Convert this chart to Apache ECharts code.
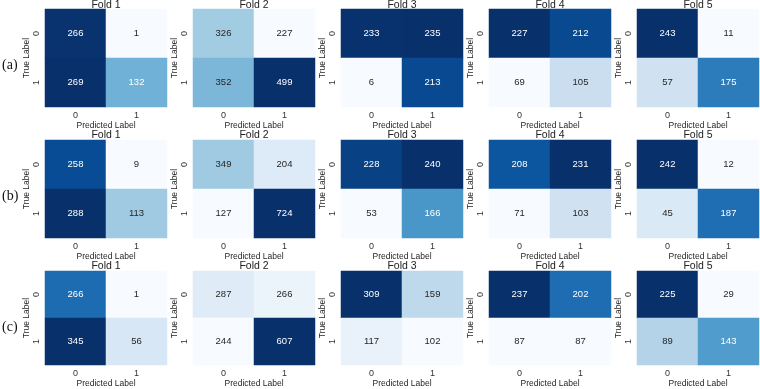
<!DOCTYPE html>
<html>
<head>
<meta charset="utf-8">
<script src="https://cdn.jsdelivr.net/npm/echarts@6/dist/echarts.min.js"></script>
<style>
  html, body { margin: 0; padding: 0; background: #fff; }
  #main { width: 760px; height: 389px; }
</style>
</head>
<body>
<div id="main"></div>
<script>
// confusion matrices: [[TN, FP], [FN, TP]] for each fold
var rowA = [[[266, 1], [269, 132]], [[326, 227], [352, 499]], [[233, 235], [6, 213]], [[227, 212], [69, 105]], [[243, 11], [57, 175]]];
var rowB = [[[258, 9], [288, 113]], [[349, 204], [127, 724]], [[228, 240], [53, 166]], [[208, 231], [71, 103]], [[242, 12], [45, 187]]];
var rowC = [[[266, 1], [345, 56]], [[287, 266], [244, 607]], [[309, 159], [117, 102]], [[237, 202], [87, 87]], [[225, 29], [89, 143]]];
var rowNames = ['(a)', '(b)', '(c)'];
var foldNames = ['Fold 1', 'Fold 2', 'Fold 3', 'Fold 4', 'Fold 5'];
var classLabels = ['0', '1'];

var rows = [rowA, rowB, rowC];
var blues = ['#f7fbff', '#deebf7', '#c6dbef', '#9ecae1', '#6baed6', '#4292c6', '#2171b5', '#08519c', '#08306b'];
var font = 'Liberation Sans, Arial, sans-serif';

var rowTops = [9, 140, 271];
var cellH = 98, cellW = 122, left0 = 45, stepX = 148;

function hexRgb(h) {
    return [parseInt(h.substr(1, 2), 16), parseInt(h.substr(3, 2), 16), parseInt(h.substr(5, 2), 16)];
}
// same rule seaborn uses to pick the annotation colour
function textColor(t) {
    var p = t * (blues.length - 1);
    var i = Math.min(Math.floor(p), blues.length - 2);
    var f = p - i;
    var a = hexRgb(blues[i]), b = hexRgb(blues[i + 1]);
    var lum = 0, w = [0.2126, 0.7152, 0.0722];
    for (var k = 0; k < 3; k++) {
        var c = (a[k] + (b[k] - a[k]) * f) / 255;
        c = c <= 0.03928 ? c / 12.92 : Math.pow((c + 0.055) / 1.055, 2.4);
        lum += w[k] * c;
    }
    return lum > 0.408 ? '#262626' : '#ffffff';
}

var grids = [], xAxes = [], yAxes = [], series = [], visualMaps = [], titles = [], graphics = [];

for (var r = 0; r < rows.length; r++) {
    for (var f = 0; f < rows[r].length; f++) {
        var m = rows[r][f];
        var idx = grids.length;
        var flat = [m[0][0], m[0][1], m[1][0], m[1][1]];
        var vmin = Math.min.apply(null, flat), vmax = Math.max.apply(null, flat);
        var data = [];
        for (var yi = 0; yi < 2; yi++) {
            for (var xi = 0; xi < 2; xi++) {
                var v = m[yi][xi];
                data.push({
                    value: [xi, yi, v],
                    label: { color: textColor((v - vmin) / (vmax - vmin)) }
                });
            }
        }
        var left = left0 + stepX * f;
        grids.push({ left: left, top: rowTops[r], width: cellW, height: cellH });
        xAxes.push({
            type: 'category', gridIndex: idx, data: classLabels,
            axisLine: { show: false }, axisTick: { show: false }, splitArea: { show: false },
            axisLabel: { margin: 4, fontSize: 9, color: '#333', fontFamily: font },
            name: 'Predicted Label', nameLocation: 'middle', nameGap: 12,
            nameTextStyle: { fontSize: 8.5, color: '#262626', fontFamily: font }
        });
        yAxes.push({
            type: 'category', gridIndex: idx, data: classLabels, inverse: true,
            axisLine: { show: false }, axisTick: { show: false }, splitArea: { show: false },
            axisLabel: { margin: 4, fontSize: 9, rotate: 90, color: '#333', fontFamily: font },
            name: 'True Label', nameLocation: 'middle', nameGap: 13, nameRotate: 90,
            nameTextStyle: { fontSize: 8.5, color: '#262626', fontFamily: font }
        });
        visualMaps.push({
            show: false, seriesIndex: idx, dimension: 2,
            min: vmin, max: vmax, inRange: { color: blues }
        });
        series.push({
            type: 'heatmap', xAxisIndex: idx, yAxisIndex: idx, data: data,
            label: { show: true, fontSize: 9.5, fontFamily: font },
            emphasis: { disabled: true }
        });
        titles.push({
            text: foldNames[f], left: left + cellW / 2, top: Math.max(0, rowTops[r] - 10),
            textAlign: 'center', padding: 0,
            textStyle: { fontSize: 10.5, fontWeight: 'normal', color: '#222', fontFamily: font }
        });
    }
    graphics.push({
        type: 'text', left: 2, top: rowTops[r] + cellH / 2,
        style: { text: rowNames[r], fontSize: 14, fill: '#111', fontFamily: 'Liberation Serif, Times New Roman, serif' }
    });
}

var myChart = echarts.init(document.getElementById('main'));
myChart.setOption({
    animation: false,
    backgroundColor: '#fff',
    title: titles,
    grid: grids,
    xAxis: xAxes,
    yAxis: yAxes,
    visualMap: visualMaps,
    graphic: { elements: graphics },
    tooltip: { show: false },
    series: series
});
</script>
</body>
</html>
